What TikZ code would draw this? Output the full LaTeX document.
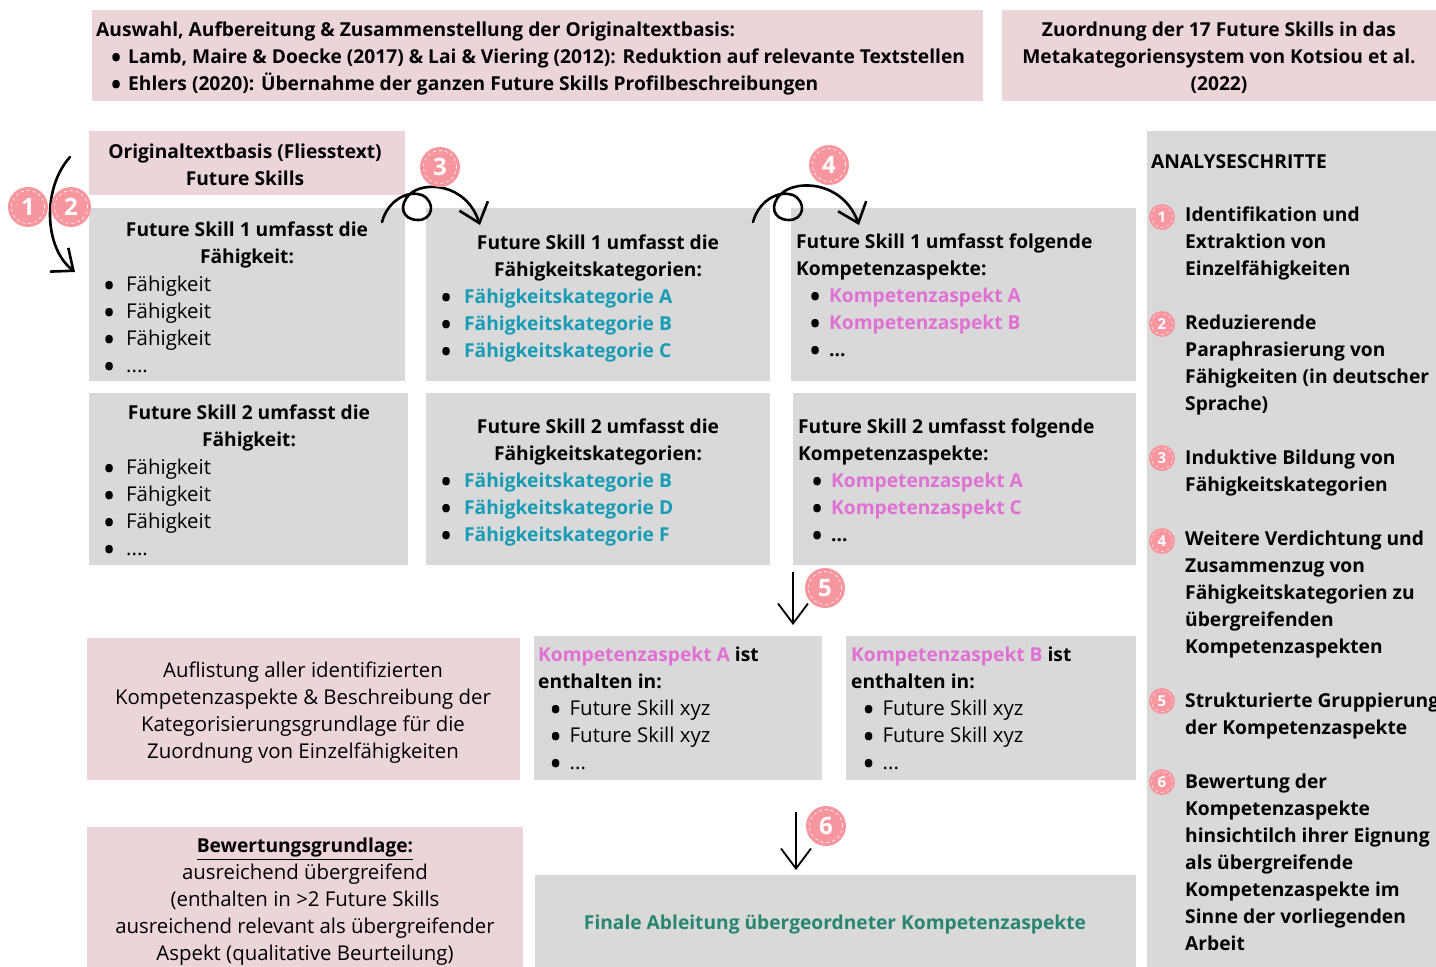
\documentclass[tikz,border=0pt]{standalone}
\usepackage{fontspec}
\setmainfont{Open Sans}
\usetikzlibrary{arrows.meta,calc}
\definecolor{boxpink}{RGB}{236,213,217}
\definecolor{boxgray}{RGB}{217,217,217}
\definecolor{badgec}{RGB}{247,150,158}
\definecolor{fkteal}{RGB}{24,156,182}
\definecolor{kpink}{RGB}{224,112,212}
\definecolor{fgreen}{RGB}{40,134,112}
\newcommand\mybul{\raisebox{-4pt}{\fontsize{27}{27}\selectfont\bfseries\color{black}•}}
\newcommand\myitem[2]{\makebox[#1][l]{\mybul}#2}
\begin{document}
\begin{tikzpicture}[x=1pt,y=-1pt,
  pbox/.style={fill=boxpink, draw=none, anchor=north west, inner sep=0},
  gbox/.style={fill=boxgray, draw=none, anchor=north west, inner sep=0},
  tx/.style={inner sep=0, font=\fontsize{20.4}{27}\selectfont},
  bt/.style={inner sep=0, font=\fontsize{19.2}{27}\selectfont\bfseries},
  badge/.style={circle, fill=badgec, minimum size=40pt, inner sep=0, text=white,
    font=\fontsize{24}{24}\selectfont\bfseries,
    path picture={\draw[white, dashed, line width=0.6pt] (path picture bounding box.center) circle (16.5pt);}},
  sbadge/.style={circle, fill=badgec, minimum size=26pt, inner sep=0, text=white,
    font=\fontsize{15}{15}\selectfont\bfseries,
    path picture={\draw[white, dashed, line width=0.4pt] (path picture bounding box.center) circle (10.5pt);}},
  carrow/.style={line width=2.6pt, line cap=round, -{Straight Barb[length=18pt, width=30pt, line width=2.6pt]}},
  sarrow/.style={line width=1.8pt, -{Straight Barb[length=20pt, width=30pt, line width=1.8pt]}}
]
\useasboundingbox (0,0) rectangle (1436,967);

% ---------- boxes ----------
\node[pbox, minimum width=891pt, minimum height=91pt] (top1) at (92,10) {};
\node[pbox, minimum width=434pt, minimum height=91pt] (top2) at (1002,10) {};
\node[pbox, minimum width=316pt, minimum height=64pt] (orig) at (89,131) {};
\node[gbox, minimum width=316pt, minimum height=173pt] (fs1a) at (89,208) {};
\node[gbox, minimum width=344pt, minimum height=173pt] (fs1b) at (426,208) {};
\node[gbox, minimum width=345pt, minimum height=173pt] (fs1c) at (791,208) {};
\node[gbox, minimum width=319pt, minimum height=172pt] (fs2a) at (89,393) {};
\node[gbox, minimum width=344pt, minimum height=172pt] (fs2b) at (426,393) {};
\node[gbox, minimum width=343pt, minimum height=172pt] (fs2c) at (793,393) {};
\node[gbox, minimum width=289pt, minimum height=836pt] (panel) at (1147,131) {};
\node[pbox, minimum width=433pt, minimum height=142pt] (aufl) at (87,638) {};
\node[gbox, minimum width=288pt, minimum height=144pt] (ka) at (534,636) {};
\node[gbox, minimum width=290pt, minimum height=144pt] (kb) at (846,636) {};
\node[pbox, minimum width=436pt, minimum height=140pt] (bew) at (87,827) {};
\node[gbox, minimum width=601pt, minimum height=92pt] (final) at (535,875) {};

% ---------- texts ----------
\node[bt, anchor=north west, align=left] (t-top1) at (96,22)
 {Auswahl, Aufbereitung \& Zusammenstellung der Originaltextbasis:\\
  \hspace*{15pt}\myitem{17pt}{Lamb, Maire \& Doecke (2017) \& Lai \& Viering (2012): Reduktion auf relevante Textstellen}\\
  \hspace*{15pt}\myitem{17pt}{Ehlers (2020): Übernahme der ganzen Future Skills Profilbeschreibungen}};
\node[bt, anchor=north, align=center] (t-top2) at (1219,22)
 {Zuordnung der 17 Future Skills in das\\Metakategoriensystem von Kotsiou et al.\\(2022)};
\node[bt, anchor=north, align=center] (t-orig) at (245,144)
 {Originaltextbasis (Fliesstext)\\Future Skills};

\node[bt, anchor=north, align=center] (h-fs1a) at (247,222) {Future Skill 1 umfasst die\\Fähigkeit:};
\node[tx, anchor=north west, align=left] (l-fs1a) at (104,276)
 {\myitem{22pt}{Fähigkeit}\\\myitem{22pt}{Fähigkeit}\\\myitem{22pt}{Fähigkeit}\\\myitem{22pt}{....}};
\node[bt, anchor=north, align=center] (h-fs2a) at (249,405) {Future Skill 2 umfasst die\\Fähigkeit:};
\node[tx, anchor=north west, align=left] (l-fs2a) at (104,459)
 {\myitem{22pt}{Fähigkeit}\\\myitem{22pt}{Fähigkeit}\\\myitem{22pt}{Fähigkeit}\\\myitem{22pt}{....}};

\node[bt, anchor=north, align=center] (h-fs1b) at (598,235) {Future Skill 1 umfasst die\\Fähigkeitskategorien:};
\node[bt, anchor=north west, align=left] (l-fs1b) at (441,289)
 {\myitem{23pt}{\color{fkteal}Fähigkeitskategorie A}\\\myitem{23pt}{\color{fkteal}Fähigkeitskategorie B}\\\myitem{23pt}{\color{fkteal}Fähigkeitskategorie C}};
\node[bt, anchor=north, align=center] (h-fs2b) at (598,419) {Future Skill 2 umfasst die\\Fähigkeitskategorien:};
\node[bt, anchor=north west, align=left] (l-fs2b) at (441,473)
 {\myitem{23pt}{\color{fkteal}Fähigkeitskategorie B}\\\myitem{23pt}{\color{fkteal}Fähigkeitskategorie D}\\\myitem{23pt}{\color{fkteal}Fähigkeitskategorie F}};

\node[bt, anchor=north west, align=left] (h-fs1c) at (796,234) {Future Skill 1 umfasst folgende\\Kompetenzaspekte:};
\node[bt, anchor=north west, align=left] (l-fs1c) at (810,288)
 {\myitem{19pt}{\color{kpink}Kompetenzaspekt A}\\\myitem{19pt}{\color{kpink}Kompetenzaspekt B}\\\myitem{19pt}{...}};
\node[bt, anchor=north west, align=left] (h-fs2c) at (798,419) {Future Skill 2 umfasst folgende\\Kompetenzaspekte:};
\node[bt, anchor=north west, align=left] (l-fs2c) at (812,473)
 {\myitem{19pt}{\color{kpink}Kompetenzaspekt A}\\\myitem{19pt}{\color{kpink}Kompetenzaspekt C}\\\myitem{19pt}{...}};

\node[tx, anchor=north, align=center] (t-aufl) at (303,662)
 {Auflistung aller identifizierten\\Kompetenzaspekte \& Beschreibung der\\Kategorisierungsgrundlage für die\\Zuordnung von Einzelfähigkeiten};

\node[tx, anchor=north west, align=left] (t-ka) at (538,647)
 {{\fontsize{19.2}{27}\selectfont\bfseries{\color{kpink}Kompetenzaspekt A} ist}\\{\fontsize{19.2}{27}\selectfont\bfseries enthalten in:}\\
  \hspace*{12.5pt}\myitem{19pt}{Future Skill xyz}\\\hspace*{12.5pt}\myitem{19pt}{Future Skill xyz}\\\hspace*{12.5pt}\myitem{19pt}{...}};
\node[tx, anchor=north west, align=left] (t-kb) at (851,647)
 {{\fontsize{19.2}{27}\selectfont\bfseries{\color{kpink}Kompetenzaspekt B} ist}\\{\fontsize{19.2}{27}\selectfont\bfseries enthalten in:}\\
  \hspace*{12.5pt}\myitem{19pt}{Future Skill xyz}\\\hspace*{12.5pt}\myitem{19pt}{Future Skill xyz}\\\hspace*{12.5pt}\myitem{19pt}{...}};

\node[tx, anchor=north, align=center] (t-bew) at (305,838)
 {{\fontsize{19.2}{27}\selectfont\bfseries\underline{Bewertungsgrundlage:}}\\ausreichend übergreifend\\(enthalten in >2 Future Skills\\ausreichend relevant als übergreifender\\Aspekt (qualitative Beurteilung)};

\node[bt, text=fgreen] (t-final) at (835,925) {Finale Ableitung übergeordneter Kompetenzaspekte};

% ---------- right panel ----------
\node[bt, anchor=north west] (t-an) at (1151,154) {ANALYSESCHRITTE};
\node[bt, anchor=north west, align=left] (s1) at (1185,207) {Identifikation und\\Extraktion von\\Einzelfähigkeiten};
\node[bt, anchor=north west, align=left] (s2) at (1185,315) {Reduzierende\\Paraphrasierung von\\Fähigkeiten (in deutscher\\Sprache)};
\node[bt, anchor=north west, align=left] (s3) at (1185,450) {Induktive Bildung von\\Fähigkeitskategorien};
\node[bt, anchor=north west, align=left] (s4) at (1185,531) {Weitere Verdichtung und\\Zusammenzug von\\Fähigkeitskategorien zu\\übergreifenden\\Kompetenzaspekten};
\node[bt, anchor=north west, align=left] (s5) at (1185,693) {Strukturierte Gruppierung\\der Kompetenzaspekte};
\node[bt, anchor=north west, align=left] (s6) at (1185,774) {Bewertung der\\Kompetenzaspekte\\hinsichtilch ihrer Eignung\\als übergreifende\\Kompetenzaspekte im\\Sinne der vorliegenden\\Arbeit};
\node[sbadge] (sb1) at (1162,217) {1};
\node[sbadge] (sb2) at (1162,324) {2};
\node[sbadge] (sb3) at (1162,458) {3};
\node[sbadge] (sb4) at (1162,541) {4};
\node[sbadge] (sb5) at (1162,701) {5};
\node[sbadge] (sb6) at (1162,782) {6};

% ---------- arrows ----------
\coordinate (a1s) at (70,157);
\coordinate (a1e) at (75,272);
\draw[carrow] (a1s) .. controls (42,188) and (44,248) .. (a1e);

\coordinate (a3s) at (382,222);
\coordinate (a3e) at (480,225);
\draw[carrow] (a3s) .. controls (388,200) and (408,190) .. (422,195)
  .. controls (436,202) and (433,220) .. (418,220)
  .. controls (402,220) and (398,205) .. (410,194)
  .. controls (424,181) and (466,183) .. (a3e);

\coordinate (a4s) at (753,222);
\coordinate (a4e) at (859,225);
\draw[carrow] (a4s) .. controls (759,200) and (779,190) .. (793,195)
  .. controls (807,202) and (804,220) .. (789,220)
  .. controls (773,220) and (769,205) .. (781,194)
  .. controls (796,179) and (843,181) .. (a4e);

\coordinate (a5s) at (793,572);
\coordinate (a5e) at (793,625);
\draw[sarrow] (a5s) -- (a5e);
\coordinate (a6s) at (796,812);
\coordinate (a6e) at (796,870);
\draw[sarrow] (a6s) -- (a6e);

% ---------- badges ----------
\node[badge] (b1) at (28,207) {1};
\node[badge] (b2) at (71,207) {2};
\node[badge] (b3) at (440,167) {3};
\node[badge] (b4) at (829,165) {4};
\node[badge] (b5) at (825,588) {5};
\node[badge] (b6) at (826,826) {6};
\end{tikzpicture}
\end{document}
